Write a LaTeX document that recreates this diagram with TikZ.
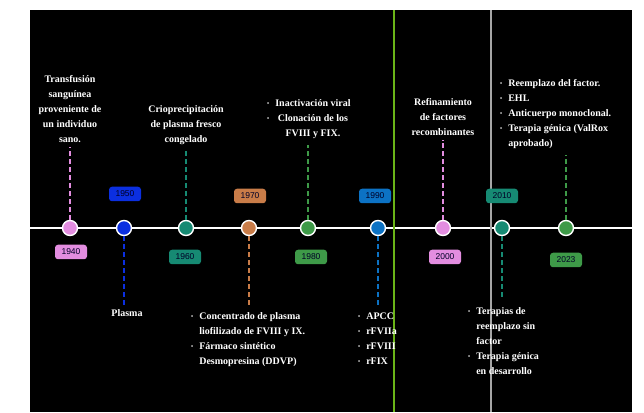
\documentclass[tikz,border=0pt]{standalone}
\usepackage{fontspec}
\setmainfont{Liberation Serif}
\setsansfont{Liberation Sans}
\usetikzlibrary{positioning,calc}
\definecolor{Orchid}{HTML}{E38DE0}
\definecolor{RoyalBlue}{HTML}{0B2FE0}
\definecolor{SeaTeal}{HTML}{168A73}
\definecolor{Copper}{HTML}{C97C48}
\definecolor{LeafGreen}{HTML}{3E9A48}
\definecolor{OceanBlue}{HTML}{0C72C4}
\definecolor{Lime}{HTML}{6AB418}
\definecolor{Ash}{HTML}{A6A6A6}
\newcommand{\itm}{\raisebox{1pt}{\scalebox{0.6}{\textbullet}}}

\begin{document}
\begin{tikzpicture}[x=1pt,y=1pt,
  every node/.style={font=\bfseries\fontsize{10}{15}\selectfont,text=white,inner sep=1pt},
  dot/.style={circle,draw=white,line width=1.4pt,minimum size=15pt,inner sep=0pt},
  yearbox/.style={rounded corners=3pt,minimum width=32pt,minimum height=14.5pt,inner sep=0pt,
    text=black!85!blue,font=\sffamily\fontsize{8.5}{10}\selectfont},
  link/.style={line width=2pt,dash pattern=on 5pt off 3pt,shorten >=3pt}]
  % background and frame
  \fill[white] (0,0) rectangle (644,412);
  \fill[black] (30,0) rectangle (632,402);
  \useasboundingbox (0,0) rectangle (644,412);
  % axis
  \coordinate (ax0) at (30,184);
  \coordinate (ax1) at (632,184);
  \draw[white,line width=1.8pt] (ax0) -- (ax1);
  \draw[Lime,line width=1.2pt] (394,0) -- (394,402);
  \draw[Ash,line width=1.2pt] (491,0) -- (491,402);

  % texts above the axis
  \node[align=center,anchor=north] (t1940) at (70,338) {Transfusión\\sanguínea\\proveniente de\\un individuo\\sano.};
  \node[align=center,anchor=north] (t1960) at (186,308) {Crioprecipitación\\de plasma fresco\\congelado};
  \node[anchor=north west] (t1980) at (266,317) {%
    \begin{tabular}{@{}l@{\hspace{6pt}}c@{}}
      \itm & Inactivación viral\\
      \itm & Clonación de los\\
           & FVIII y FIX.
    \end{tabular}};
  \node[align=center,anchor=north] (t2000) at (443,315) {Refinamiento\\de factores\\recombinantes};
  \node[anchor=north west] (t2023) at (499,337) {%
    \begin{tabular}{@{}l@{\hspace{6pt}}l@{}}
      \itm & Reemplazo del factor.\\
      \itm & EHL\\
      \itm & Anticuerpo monoclonal.\\
      \itm & Terapia génica (ValRox\\
           & aprobado)
    \end{tabular}};

  % texts below the axis
  \node[anchor=north] (b1950) at (127,104) {Plasma};
  \node[anchor=north west] (b1970) at (190,104) {%
    \begin{tabular}{@{}l@{\hspace{6pt}}l@{}}
      \itm & Concentrado de plasma\\
           & liofilizado de FVIII y IX.\\
      \itm & Fármaco sintético\\
           & Desmopresina (DDVP)
    \end{tabular}};
  \node[anchor=north west] (b1990) at (357,104) {%
    \begin{tabular}{@{}l@{\hspace{6pt}}l@{}}
      \itm & APCC\\
      \itm & rFVIIa\\
      \itm & rFVIII\\
      \itm & rFIX
    \end{tabular}};
  \node[anchor=north west] (b2010) at (467,109) {%
    \begin{tabular}{@{}l@{\hspace{6pt}}l@{}}
      \itm & Terapias de\\
           & reemplazo sin\\
           & factor\\
      \itm & Terapia génica\\
           & en desarrollo
    \end{tabular}};

  % milestones
  \foreach \yr/\xx/\col/\lx/\ly in {1940/70/Orchid/71/160, 1950/124/RoyalBlue/125/218,
      1960/186/SeaTeal/185/155, 1970/249/Copper/250/216, 1980/308/LeafGreen/311/155,
      1990/378/OceanBlue/375/216, 2000/443/Orchid/445/155, 2010/502/SeaTeal/502/216,
      2023/566/LeafGreen/566/152}{
    \node[dot,fill=\col] (d\yr) at (\xx,184) {};
    \node[yearbox,fill=\col] (y\yr) at (\lx,\ly) {\yr};
  }
  \foreach \yr/\col in {1940/Orchid,1960/SeaTeal,1980/LeafGreen,2000/Orchid,2023/LeafGreen}
    \draw[link,\col] (d\yr) -- (d\yr |- t\yr.south);
  \foreach \yr/\col in {1950/RoyalBlue,1970/Copper,1990/OceanBlue,2010/SeaTeal}
    \draw[link,\col] (d\yr) -- (d\yr |- b\yr.north);
\end{tikzpicture}
\end{document}
